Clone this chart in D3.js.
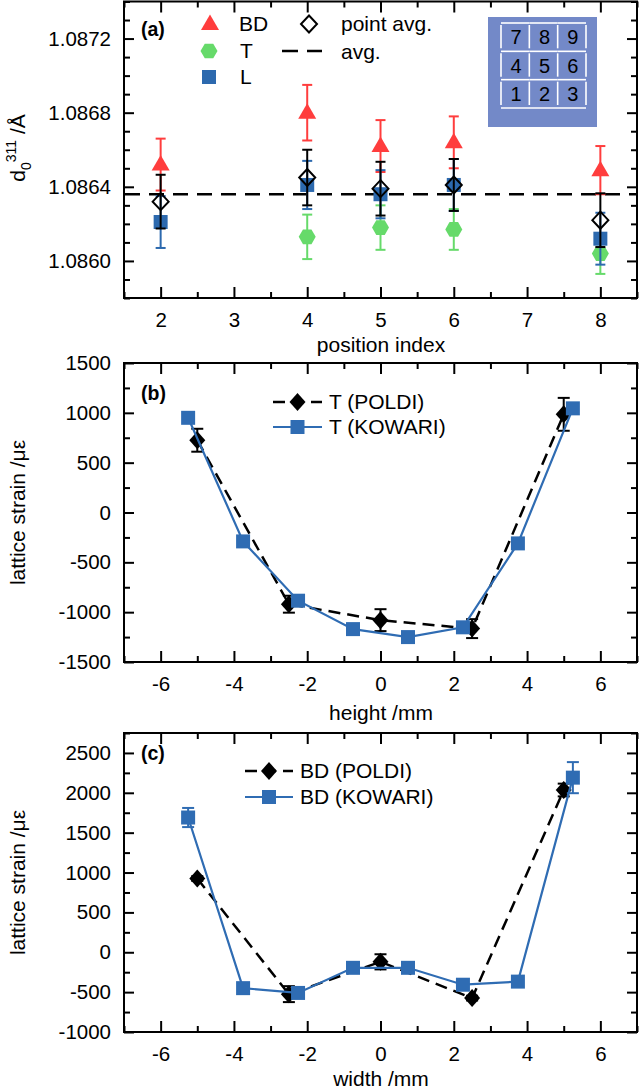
<!DOCTYPE html>
<html><head><meta charset="utf-8">
<script src="https://cdn.jsdelivr.net/npm/d3@7"></script>
<style>body{margin:0;background:#fff} svg{display:block;font-family:"Liberation Sans",Arial,sans-serif}</style>
</head><body><svg id="c" width="640" height="1091"></svg>
<script>
// ---------- DATA ----------
// panel (a)
const positions = [2, 4, 5, 6, 8];
const bdVals = [1.08652, 1.08680, 1.08662, 1.08664, 1.08649];
const bdErr  = [0.00014, 0.00015, 0.00014, 0.00014, 0.00013];
const tVals  = [null, 1.08613, 1.08618, 1.08617, 1.08604];
const tErr   = [null, 0.00012, 0.00012, 0.00011, 0.00011];
const lVals  = [1.08621, 1.08641, 1.08636, 1.08641, 1.08612];
const lErr   = [0.00014, 0.00013, 0.00013, 0.00014, 0.00014];
const avgVals = [1.08632, 1.08645, 1.08639, 1.08641, 1.08622];
const avgErr  = [0.000145, 0.00015, 0.000145, 0.00014, 0.000145];
const overallAvg = 1.08636;
const aYTicks = [1.0860, 1.0864, 1.0868, 1.0872];
const aXTicks = [2, 3, 4, 5, 6, 7, 8];
const insetLabels = [[7, 8, 9], [4, 5, 6], [1, 2, 3]];
// panel (b)
const bPoldiX = [-5, -2.5, 0, 2.5, 5];
const bPoldiY = [725, -920, -1080, -1165, 985];
const bPoldiErr = [115, 85, 110, 95, 165];
const bKowariX = [-5.25, -3.75, -2.25, -0.75, 0.75, 2.25, 3.75, 5.25];
const bKowariY = [950, -290, -885, -1170, -1250, -1152, -310, 1045];
const bYTicks = [-1500, -1000, -500, 0, 500, 1000, 1500];
// panel (c)
const cPoldiX = [-5, -2.5, 0, 2.5, 5];
const cPoldiY = [925, -525, -120, -575, 2035];
const cPoldiErr = [30, 100, 95, 30, 80];
const cKowariX = [-5.25, -3.75, -2.25, -0.75, 0.75, 2.25, 3.75, 5.25];
const cKowariY = [1690, -450, -510, -195, -195, -407, -368, 2190];
const cKowariErr = [120, 20, 20, 20, 20, 20, 20, 195];
const cYTicks = [-1000, -500, 0, 500, 1000, 1500, 2000, 2500];
const mmTicks = [-6, -4, -2, 0, 2, 4, 6];

// ---------- STYLE ----------
const RED = "#ff3d3d", GREEN = "#66da6a", BLUE = "#2c69ae", BLUE2 = "#2f6cb3";
const svg = d3.select("#c");
svg.append("rect").attr("width", 640).attr("height", 1091).attr("fill", "#fff");
const L = 124, R = 637;
const hyph = d => String(d);

const sym = {
  tri: {draw(c){ c.moveTo(0,-9.5); c.lineTo(9,6); c.lineTo(-9,6); c.closePath(); }},
  hex: {draw(c){ for(let i=0;i<6;i++){const a=Math.PI/3*i; const x=8.5*Math.cos(a), y=8.5*Math.sin(a); i?c.lineTo(x,y):c.moveTo(x,y);} c.closePath(); }},
  sq: {draw(c){ c.rect(-7,-7,14,14); }},
  dia: {draw(c){ c.moveTo(0,-8.5); c.lineTo(8,0); c.lineTo(0,8.5); c.lineTo(-8,0); c.closePath(); }},
  dia2: {draw(c){ c.moveTo(0,-9); c.lineTo(8,0); c.lineTo(0,9); c.lineTo(-8,0); c.closePath(); }}
};
const symPath = t => d3.symbol().type(t)();

function panelAxes(x, y, top, bottom, xMajor, xMinor, yMajor, yMinor, xFmt, yFmt) {
  const g = svg.append("g");
  const ax = (gen, tr, vals, size, fmt) => {
    const a = gen.tickValues(vals).tickSizeInner(-size).tickSizeOuter(0);
    if (fmt === null) a.tickFormat("");
    else if (fmt) a.tickFormat(fmt);
    const s = g.append("g").attr("transform", tr).call(a);
    s.select(".domain").remove();
    s.selectAll(".tick line").attr("stroke", "#000").attr("stroke-width", 2);
    s.attr("font-size", 20.5).attr("font-family", "'Liberation Sans',Arial,sans-serif");
    s.selectAll("text").attr("fill", "#000");
    return a;
  };
  ax(d3.axisBottom(x).tickPadding(14), `translate(0,${bottom})`, xMajor, 11, xFmt);
  ax(d3.axisBottom(x), `translate(0,${bottom})`, xMinor, 6, null);
  ax(d3.axisTop(x), `translate(0,${top})`, xMajor, 11, null);
  ax(d3.axisTop(x), `translate(0,${top})`, xMinor, 6, null);
  ax(d3.axisLeft(y).tickPadding(13), `translate(${L},0)`, yMajor, 10, yFmt);
  ax(d3.axisLeft(y), `translate(${L},0)`, yMinor, 6, null);
  ax(d3.axisRight(y), `translate(${R},0)`, yMajor, 10, null);
  ax(d3.axisRight(y), `translate(${R},0)`, yMinor, 6, null);
  g.append("rect").attr("x", L).attr("y", top).attr("width", R - L).attr("height", bottom - top)
    .attr("fill", "none").attr("stroke", "#000").attr("stroke-width", 2);
}

function pairs(xs, ys, es) {
  return xs.map((v, i) => [v, ys[i], es ? es[i] : 0]).filter(d => d[1] != null);
}
function errBars(g, data, x, y, color, cap, sw) {
  data.forEach(([xv, yv, ev]) => {
    const cx = x(xv), y1 = y(yv + ev), y2 = y(yv - ev);
    g.append("line").attr("x1", cx).attr("x2", cx).attr("y1", y1).attr("y2", y2).attr("stroke", color).attr("stroke-width", sw);
    [y1, y2].forEach(yy => g.append("line").attr("x1", cx - cap/2).attr("x2", cx + cap/2).attr("y1", yy).attr("y2", yy).attr("stroke", color).attr("stroke-width", sw));
  });
}
function markers(g, data, x, y, type, fill, stroke, sw) {
  g.selectAll(null).data(data).enter().append("path")
    .attr("d", symPath(type)).attr("transform", d => `translate(${x(d[0])},${y(d[1])})`)
    .attr("fill", fill).attr("stroke", stroke || "none").attr("stroke-width", sw || 0);
}
function text(x, y, s, opts = {}) {
  return svg.append("text").attr("x", x).attr("y", y).attr("dy", "0.35em")
    .attr("font-size", opts.size || 21).attr("font-weight", opts.bold ? "bold" : null)
    .attr("text-anchor", opts.anchor || "start").attr("fill", "#000").text(s);
}
function yTitle(cy, build) {
  const t = svg.append("text").attr("transform", `translate(25,${cy}) rotate(-90)`)
    .attr("text-anchor", "middle").attr("font-size", 21).attr("fill", "#000");
  build(t);
}

// ---------- PANEL (a) ----------
{
  const top = 1.5, bottom = 298;
  const x = d3.scaleLinear().domain([1.5, 8.5]).range([L, R]);
  const y = d3.scaleLinear().domain([1.0858, 1.0874]).range([bottom, top]);
  const yMinor = d3.range(1.0858, 1.08741, 0.0001).map(v => +v.toFixed(4)).filter(v => !aYTicks.some(t => Math.abs(t - v) < 1e-7));
  const xMinor = d3.range(1.5, 8.51, 1);
  panelAxes(x, y, top, bottom, aXTicks, xMinor, aYTicks, yMinor, hyph, d => d.toFixed(4));
  const g = svg.append("g");
  g.append("line").attr("x1", L + 1).attr("x2", R - 1).attr("y1", y(overallAvg)).attr("y2", y(overallAvg))
    .attr("stroke", "#000").attr("stroke-width", 2.5).attr("stroke-dasharray", "15,9");
  const bd = pairs(positions, bdVals, bdErr), tt = pairs(positions, tVals, tErr),
        ll = pairs(positions, lVals, lErr), av = pairs(positions, avgVals, avgErr);
  errBars(g, bd, x, y, RED, 10, 2);
  markers(g, bd, x, y, sym.tri, RED);
  errBars(g, tt, x, y, GREEN, 10, 2);
  markers(g, tt, x, y, sym.hex, GREEN);
  errBars(g, ll, x, y, BLUE, 10, 2);
  markers(g, ll, x, y, sym.sq, BLUE);
  errBars(g, av, x, y, "#000", 10, 2);
  markers(g, av, x, y, sym.dia, "none", "#000", 2);

  text(141, 29, "(a)", {bold: true, size: 19.5});
  const lg = svg.append("g");
  lg.append("path").attr("d", symPath(sym.tri)).attr("transform", "translate(210,24)").attr("fill", RED);
  lg.append("path").attr("d", symPath(sym.hex)).attr("transform", "translate(209,51)").attr("fill", GREEN);
  lg.append("path").attr("d", symPath(sym.sq)).attr("transform", "translate(209,77)").attr("fill", BLUE);
  lg.append("path").attr("d", symPath(sym.dia)).attr("transform", "translate(309,24)").attr("fill", "none").attr("stroke", "#000").attr("stroke-width", 2);
  lg.append("line").attr("x1", 282).attr("x2", 322).attr("y1", 51).attr("y2", 51).attr("stroke", "#000").attr("stroke-width", 2.5).attr("stroke-dasharray", "16,9");
  text(239, 24, "BD"); text(240, 51, "T"); text(240, 77, "L");
  text(341, 24, "point avg."); text(341, 52, "avg.");
  // inset
  const ins = svg.append("g");
  ins.append("rect").attr("x", 488).attr("y", 17).attr("width", 109).attr("height", 110).attr("fill", "#7389c8");
  const cx = d3.scaleBand().domain([0, 1, 2]).range([501, 586]);
  const cy = d3.scaleBand().domain([0, 1, 2]).range([23, 108]);
  insetLabels.forEach((row, r) => row.forEach((lab, c) => {
    const x0 = cx(c), y0 = cy(r), w = cx.bandwidth(), h = cy.bandwidth();
    ins.append("line").attr("x1", x0).attr("x2", x0 + w).attr("y1", y0).attr("y2", y0).attr("stroke", "#fff").attr("stroke-width", 1.6);
    ins.append("line").attr("x1", x0).attr("x2", x0).attr("y1", y0 + 2).attr("y2", y0 + h - 3).attr("stroke", "#fff").attr("stroke-width", 1.6);
    if (c === 2) ins.append("line").attr("x1", x0 + w).attr("x2", x0 + w).attr("y1", y0 + 2).attr("y2", y0 + h - 3).attr("stroke", "#fff").attr("stroke-width", 1.6);
    ins.append("text").attr("x", x0 + w / 2 + 1).attr("y", y0 + h / 2).attr("dy", "0.36em").attr("text-anchor", "middle")
      .attr("font-size", 20).attr("fill", "#000").text(lab);
  }));
  ins.append("line").attr("x1", 501).attr("x2", 586).attr("y1", 108).attr("y2", 108).attr("stroke", "#fff").attr("stroke-width", 1.6);

  text(381, 345, "position index", {anchor: "middle"});
  yTitle(148, t => {
    t.append("tspan").text("d");
    t.append("tspan").attr("dy", 6).attr("font-size", 14).text("0");
    t.append("tspan").attr("dy", -15).attr("font-size", 14).text("311");
    t.append("tspan").attr("dy", 9).text(" /Å");
  });
}

// ---------- PANELS (b) & (c) ----------
function strainPanel(top, bottom, yDom, yTicks, px, py, pe, kx, ky, ke, label, names, legX, legY, xTitle, xTitleY) {
  const x = d3.scaleLinear().domain([-7, 7]).range([L, R]);
  const y = d3.scaleLinear().domain(yDom).range([bottom, top]);
  const yMinor = d3.range(yDom[0], yDom[1] + 1, 250).filter(v => !yTicks.includes(v));
  const xMinor = d3.range(-7, 7.01, 2);
  panelAxes(x, y, top, bottom, mmTicks, xMinor, yTicks, yMinor, hyph, hyph);
  const g = svg.append("g");
  const line = d3.line().x(d => x(d[0])).y(d => y(d[1]));
  const pd = pairs(px, py, pe), kd = pairs(kx, ky, ke);
  g.append("path").attr("d", line(pd)).attr("fill", "none").attr("stroke", "#000").attr("stroke-width", 2.5).attr("stroke-dasharray", "12,7");
  errBars(g, pd, x, y, "#000", 12, 2);
  markers(g, pd, x, y, sym.dia2, "#000");
  g.append("path").attr("d", line(kd)).attr("fill", "none").attr("stroke", BLUE2).attr("stroke-width", 2.2);
  if (ke) errBars(g, kd, x, y, BLUE2, 12, 2);
  markers(g, kd, x, y, sym.sq, BLUE2);

  text(141, top + (label === "(b)" ? 30 : 20), label, {bold: true, size: 19.5});
  const [x1, x2] = legX;
  const mx = (x1 + x2) / 2;
  svg.append("line").attr("x1", x1).attr("x2", x2).attr("y1", legY[0]).attr("y2", legY[0]).attr("stroke", "#000").attr("stroke-width", 2.5).attr("stroke-dasharray", "12,7");
  svg.append("path").attr("d", symPath(sym.dia2)).attr("transform", `translate(${mx},${legY[0]})`).attr("fill", "#000");
  svg.append("line").attr("x1", x1).attr("x2", x2).attr("y1", legY[1]).attr("y2", legY[1]).attr("stroke", BLUE2).attr("stroke-width", 2.2);
  svg.append("path").attr("d", symPath(sym.sq)).attr("transform", `translate(${mx},${legY[1]})`).attr("fill", BLUE2);
  text(x2 + 7, legY[0], names[0]);
  text(x2 + 7, legY[1], names[1]);

  text(381, xTitleY, xTitle, {anchor: "middle"});
  yTitle((top + bottom) / 2, t => { t.text("lattice strain /με"); });
}
strainPanel(363, 662, [-1500, 1500], bYTicks, bPoldiX, bPoldiY, bPoldiErr, bKowariX, bKowariY, null,
  "(b)", ["T (POLDI)", "T (KOWARI)"], [273, 322], [402, 427], "height /mm", 713);
strainPanel(733, 1032, [-1000, 2750], cYTicks, cPoldiX, cPoldiY, cPoldiErr, cKowariX, cKowariY, cKowariErr,
  "(c)", ["BD (POLDI)", "BD (KOWARI)"], [245, 293], [771, 797], "width /mm", 1079);
</script></body></html>
